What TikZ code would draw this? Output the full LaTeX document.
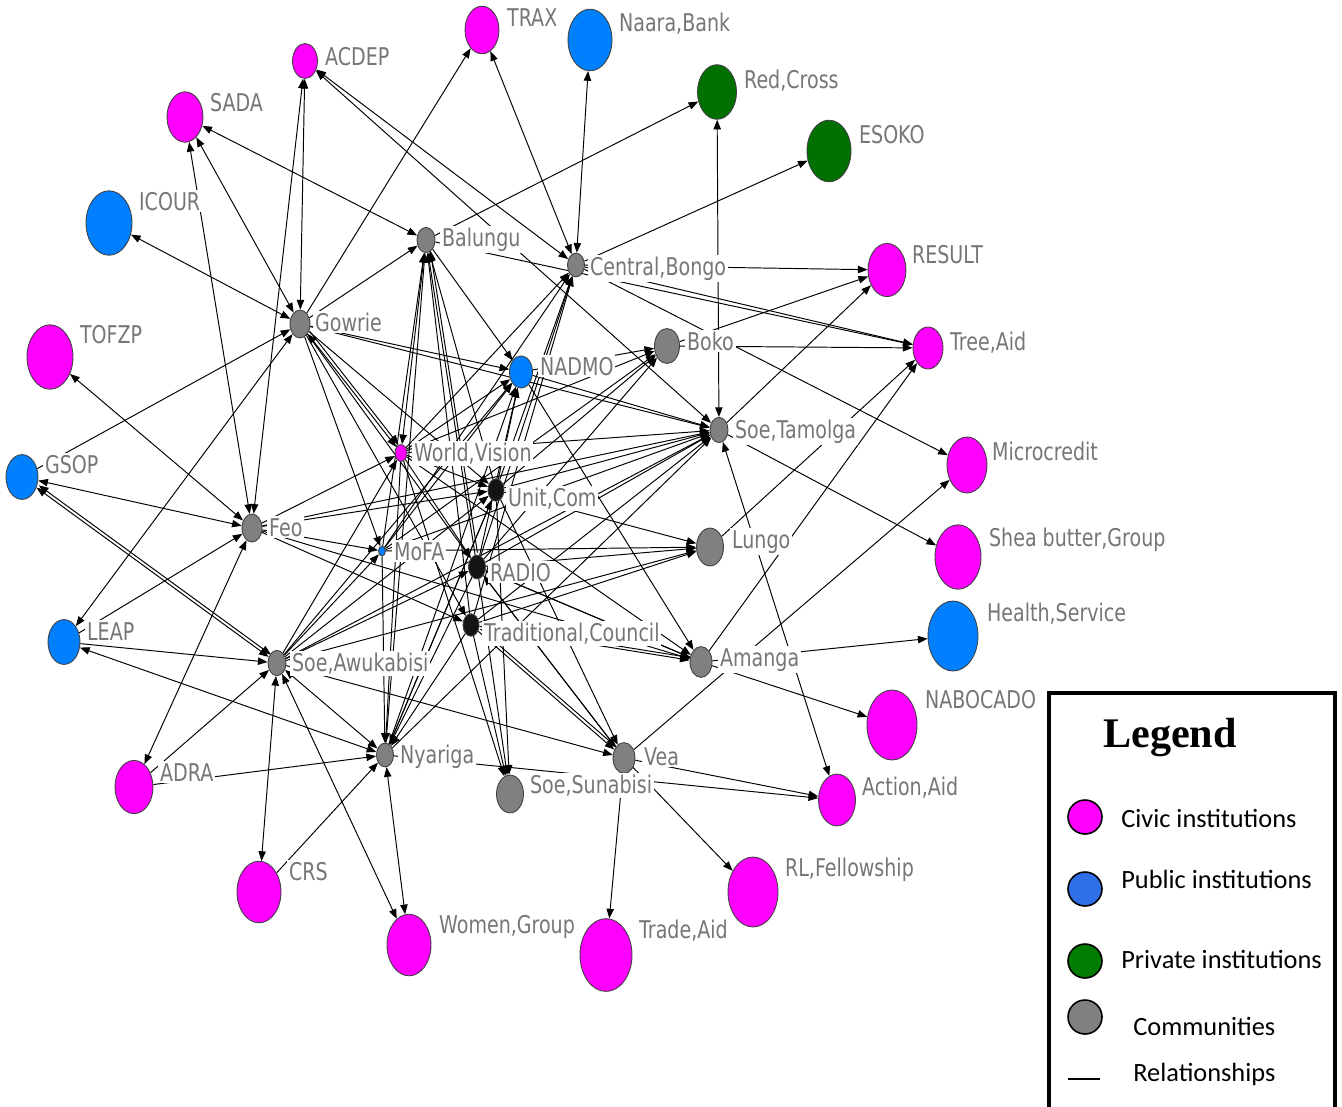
\documentclass[tikz,border=0pt]{standalone}
\usepackage{fontspec}
\newfontfamily\labfont{DejaVu Sans}[FakeStretch=0.78]
\newfontfamily\legfont{Carlito}
\newfontfamily\legtitlefont{Liberation Serif}
\usetikzlibrary{shapes.geometric,arrows.meta,calc}
\pgfdeclarelayer{bg}
\pgfsetlayers{bg,main}
\definecolor{civic}{RGB}{255,0,255}
\definecolor{pub}{RGB}{0,128,255}
\definecolor{priv}{RGB}{0,112,0}
\definecolor{comm}{RGB}{128,128,128}
\definecolor{hub}{RGB}{20,20,20}
\definecolor{labgray}{RGB}{118,118,118}
\definecolor{legblue}{RGB}{46,110,230}
\definecolor{leggreen}{RGB}{0,125,0}
\tikzset{
  vtx/.style={ellipse, draw=black!75, line width=0.5pt, inner sep=0pt},
  netlab/.style={anchor=base west, inner sep=1pt, fill=white, text=labgray, font=\labfont\fontsize{13.9}{16}\selectfont},
  rel/.style={line width=0.55pt, -{Triangle[length=5.5pt,width=4.2pt]}},
  brel/.style={line width=0.55pt, {Triangle[length=5.5pt,width=4.2pt]}-{Triangle[length=5.5pt,width=4.2pt]}},
  dbl/.style={transform canvas={shift={(1.3pt,1.3pt)}}},
  legdot/.style={circle, draw=black, line width=0.9pt, minimum size=0.68cm, inner sep=0pt},
  legtext/.style={anchor=base west, inner sep=0pt, font=\legfont\fontsize{15}{18}\selectfont},
}
\newcommand\vtxnode[5]{\node[vtx, fill=#5, minimum width=#4*0.04cm, minimum height=#4*0.056cm] (#1) at (#2,#3) {};}
\newcommand\netlabel[4]{\node[netlab] (l#1) at (#2,#3) {#4};}
\begin{document}
\begin{tikzpicture}[x=0.02cm, y=-0.02cm]
\useasboundingbox (0,0) rectangle (1342,1106);
% vertices
\vtxnode{TRAX}{482}{30}{17}{civic}
\vtxnode{NB}{590}{40}{22}{pub}
\vtxnode{ACDEP}{305}{61}{12.5}{civic}
\vtxnode{RC}{717}{92}{19.5}{priv}
\vtxnode{SADA}{185}{117}{18}{civic}
\vtxnode{ESOKO}{829}{151}{22}{priv}
\vtxnode{ICOUR}{109}{223}{23}{pub}
\vtxnode{BAL}{426}{240}{9}{comm}
\vtxnode{CB}{576}{265}{8.5}{comm}
\vtxnode{RES}{887}{270}{19}{civic}
\vtxnode{TOF}{50}{357}{23}{civic}
\vtxnode{GOW}{300}{324}{10}{comm}
\vtxnode{BOKO}{667}{346}{12.5}{comm}
\vtxnode{TREE}{928}{348}{15}{civic}
\vtxnode{NAD}{521}{372}{11.5}{pub}
\vtxnode{ST}{719}{430}{9}{comm}
\vtxnode{WV}{401}{453}{6}{civic}
\vtxnode{MIC}{967}{465}{20}{civic}
\vtxnode{GSOP}{22}{477}{16}{pub}
\vtxnode{UC}{496}{490}{8}{hub}
\vtxnode{FEO}{252}{528}{10}{comm}
\vtxnode{MOFA}{382}{551}{3.5}{pub}
\vtxnode{LUN}{710}{547}{13.5}{comm}
\vtxnode{SHEA}{958}{557}{23}{civic}
\vtxnode{RAD}{477}{567}{8.5}{hub}
\vtxnode{HEA}{953}{636}{25}{pub}
\vtxnode{LEAP}{64}{642}{16}{pub}
\vtxnode{TC}{471}{625}{8}{hub}
\vtxnode{SA}{277}{663}{9}{comm}
\vtxnode{AMA}{701}{662}{11}{comm}
\vtxnode{NABO}{892}{725}{25}{civic}
\vtxnode{NYA}{385}{755}{8.5}{comm}
\vtxnode{VEA}{624}{758}{11}{comm}
\vtxnode{ADRA}{134}{787}{19}{civic}
\vtxnode{SS}{510}{794}{13.5}{comm}
\vtxnode{AA}{837}{800}{18.5}{civic}
\vtxnode{CRS}{259}{892}{22}{civic}
\vtxnode{RL}{753}{892}{25}{civic}
\vtxnode{WG}{409}{945}{22}{civic}
\vtxnode{TA}{606}{955}{26}{civic}
% relationships
\begin{pgfonlayer}{bg}
\draw[brel] (SADA) -- (BAL);
\draw[brel] (SADA) -- (GOW);
\draw[brel] (SADA) -- (FEO);
\draw[brel] (ACDEP) -- (GOW);
\draw[brel] (ACDEP) -- (FEO);
\draw[brel] (ACDEP) -- (CB);
\draw[brel] (ACDEP) -- (ST);
\draw[brel] (ICOUR) -- (GOW);
\draw[rel] (GOW) -- (TRAX);
\draw[brel] (TRAX) -- (CB);
\draw[brel] (NB) -- (CB);
\draw[rel] (BAL) -- (RC);
\draw[brel] (ST) -- (RC);
\draw[rel] (CB) -- (ESOKO);
\draw[rel] (CB) -- (RES);
\draw[rel] (BOKO) -- (RES);
\draw[rel] (ST) -- (RES);
\draw[rel] (CB) -- (TREE);
\draw[rel] (BAL) -- (TREE);
\draw[rel] (BOKO) -- (TREE);
\draw[rel] (LUN) -- (TREE);
\draw[rel] (AMA) -- (TREE);
\draw[rel] (CB) -- (MIC);
\draw[rel] (VEA) -- (MIC);
\draw[rel] (ST) -- (SHEA);
\draw[rel] (AMA) -- (HEA);
\draw[rel] (AMA) -- (NABO);
\draw[brel] (ST) -- (AA);
\draw[rel] (VEA) -- (AA);
\draw[rel] (NYA) -- (AA);
\draw[rel] (VEA) -- (RL);
\draw[rel] (VEA) -- (TA);
\draw[brel] (NYA) -- (WG);
\draw[brel] (SA) -- (WG);
\draw[brel] (SA) -- (CRS);
\draw[rel] (CRS) -- (NYA);
\draw[rel] (ADRA) -- (NYA);
\draw[rel] (ADRA) -- (SA);
\draw[brel] (FEO) -- (ADRA);
\draw[brel] (LEAP) -- (NYA);
\draw[rel] (LEAP) -- (SA);
\draw[rel] (LEAP) -- (FEO);
\draw[brel] (LEAP) -- (GOW);
\draw[brel] (GSOP) -- (SA);
\draw[brel,dbl] (GSOP) -- (SA);
\draw[brel] (GSOP) -- (FEO);
\draw[rel] (GSOP) -- (GOW);
\draw[brel] (TOF) -- (FEO);
\draw[brel] (SA) -- (NYA);
\draw[rel] (SA) -- (VEA);
\draw[rel] (GOW) -- (BAL);
\draw[rel] (GOW) -- (NAD);
\draw[rel] (NAD) -- (BOKO);
% central
\draw[brel] (GOW) -- (WV);
\draw[rel,dbl] (GOW) -- (WV);
\draw[rel] (GOW) -- (MOFA);
\draw[rel] (GOW) -- (RAD);
\draw[rel] (GOW) -- (TC);
\draw[rel] (GOW) -- (UC);
\draw[rel] (GOW) -- (ST);
\draw[brel] (BAL) -- (WV);
\draw[rel] (MOFA) -- (BAL);
\draw[rel] (RAD) -- (BAL);
\draw[rel,dbl] (RAD) -- (BAL);
\draw[rel] (TC) -- (BAL);
\draw[rel] (UC) -- (BAL);
\draw[rel] (BAL) -- (NAD);
\draw[rel] (NYA) -- (BAL);
\draw[rel] (FEO) -- (WV);
\draw[rel] (FEO) -- (MOFA);
\draw[rel] (FEO) -- (UC);
\draw[rel] (FEO) -- (TC);
\draw[rel] (FEO) -- (ST);
\draw[rel] (FEO) -- (AMA);
\draw[rel] (WV) -- (CB);
\draw[rel] (WV) -- (BOKO);
\draw[rel] (WV) -- (ST);
\draw[rel] (WV) -- (NAD);
\draw[rel] (WV) -- (UC);
\draw[rel] (WV) -- (RAD);
\draw[rel] (WV) -- (SS);
\draw[rel] (WV) -- (NYA);
\draw[rel] (WV) -- (AMA);
\draw[rel] (MOFA) -- (CB);
\draw[rel] (MOFA) -- (LUN);
\draw[rel] (MOFA) -- (ST);
\draw[rel] (MOFA) -- (NYA);
\draw[rel] (MOFA) -- (BOKO);
\draw[rel] (MOFA) -- (NAD);
\draw[rel] (UC) -- (CB);
\draw[rel] (UC) -- (LUN);
\draw[rel] (UC) -- (ST);
\draw[rel] (UC) -- (BOKO);
\draw[rel] (UC) -- (NAD);
\draw[rel] (UC) -- (VEA);
\draw[rel] (UC) -- (SS);
\draw[rel] (UC) -- (NYA);
\draw[rel] (RAD) -- (CB);
\draw[rel] (RAD) -- (LUN);
\draw[rel] (RAD) -- (ST);
\draw[rel] (RAD) -- (BOKO);
\draw[rel] (RAD) -- (AMA);
\draw[rel] (RAD) -- (VEA);
\draw[rel] (RAD) -- (SS);
\draw[rel] (RAD) -- (NYA);
\draw[rel] (RAD) -- (NAD);
\draw[rel] (TC) -- (CB);
\draw[rel] (TC) -- (LUN);
\draw[rel] (TC) -- (ST);
\draw[rel] (TC) -- (AMA);
\draw[rel,dbl] (TC) -- (AMA);
\draw[rel] (TC) -- (VEA);
\draw[rel,dbl] (TC) -- (VEA);
\draw[rel] (TC) -- (SS);
\draw[rel] (TC) -- (NYA);
\draw[rel] (AMA) -- (RAD);
\draw[rel] (VEA) -- (RAD);
\draw[rel] (NAD) -- (AMA);
\draw[rel] (NAD) -- (ST);
\draw[rel] (SA) -- (WV);
\draw[rel] (SA) -- (MOFA);
\draw[rel] (SA) -- (UC);
\draw[rel] (SA) -- (RAD);
\draw[rel] (SA) -- (NAD);
\draw[rel] (SA) -- (ST);
\draw[rel] (SA) -- (LUN);
\draw[rel] (NYA) -- (UC);
\draw[rel] (NYA) -- (ST);
\draw[rel] (NYA) -- (NAD);
\end{pgfonlayer}
% labels
\netlabel{TRAX}{505}{26}{TRAX}
\netlabel{NB}{617}{31}{Naara,Bank}
\netlabel{ACDEP}{323}{65}{ACDEP}
\netlabel{RC}{742}{88}{Red,Cross}
\netlabel{SADA}{208}{111}{SADA}
\netlabel{ESOKO}{857}{143}{ESOKO}
\netlabel{ICOUR}{137}{210}{ICOUR}
\netlabel{BAL}{440}{246}{Balungu}
\netlabel{CB}{588}{275}{Central,Bongo}
\netlabel{RES}{910}{263}{RESULT}
\netlabel{TOF}{78}{343}{TOFZP}
\netlabel{GOW}{313}{331}{Gowrie}
\netlabel{BOKO}{685}{350}{Boko}
\netlabel{TREE}{948}{350}{Tree,Aid}
\netlabel{NAD}{538}{375}{NADMO}
\netlabel{ST}{733}{438}{Soe,Tamolga}
\netlabel{WV}{412}{461}{World,Vision}
\netlabel{MIC}{990}{460}{Microcredit}
\netlabel{GSOP}{43}{473}{GSOP}
\netlabel{UC}{506}{506}{Unit,Com}
\netlabel{FEO}{267}{536}{Feo}
\netlabel{MOFA}{392}{560}{MoFA}
\netlabel{LUN}{730}{548}{Lungo}
\netlabel{SHEA}{987}{546}{Shea butter,Group}
\netlabel{RAD}{488}{581}{RADIO}
\netlabel{HEA}{985}{621}{Health,Service}
\netlabel{LEAP}{85}{640}{LEAP}
\netlabel{TC}{482}{641}{Traditional,Council}
\netlabel{SA}{290}{671}{Soe,Awukabisi}
\netlabel{AMA}{718}{666}{Amanga}
\netlabel{NABO}{923}{708}{NABOCADO}
\netlabel{NYA}{398}{763}{Nyariga}
\netlabel{VEA}{642}{765}{Vea}
\netlabel{ADRA}{158}{781}{ADRA}
\netlabel{SS}{528}{793}{Soe,Sunabisi}
\netlabel{AA}{860}{795}{Action,Aid}
\netlabel{CRS}{287}{880}{CRS}
\netlabel{RL}{783}{876}{RL,Fellowship}
\netlabel{WG}{437}{933}{Women,Group}
\netlabel{TA}{637}{938}{Trade,Aid}
% legend
\draw[line width=2.3pt, fill=white] (1049,693) rectangle (1335,1130);
\node[anchor=base, inner sep=0pt, font=\legtitlefont\bfseries\fontsize{24}{28}\selectfont] (legtitle) at (1170,747) {Legend};
\node[legdot, fill=civic] (lg1) at (1085,817) {};
\node[legdot, fill=legblue] (lg2) at (1085,889) {};
\node[legdot, fill=leggreen] (lg3) at (1085,961) {};
\node[legdot, fill=comm] (lg4) at (1085,1017) {};
\coordinate (lg5a) at (1068,1079);
\coordinate (lg5b) at (1100,1079);
\draw[line width=0.8pt] (lg5a) -- (lg5b);
\node[legtext] (lt1) at (1121,827) {Civic institutions};
\node[legtext] (lt2) at (1121,888) {Public institutions};
\node[legtext] (lt3) at (1121,968) {Private institutions};
\node[legtext] (lt4) at (1133,1035) {Communities};
\node[legtext] (lt5) at (1133,1081) {Relationships};
\end{tikzpicture}
\end{document}
